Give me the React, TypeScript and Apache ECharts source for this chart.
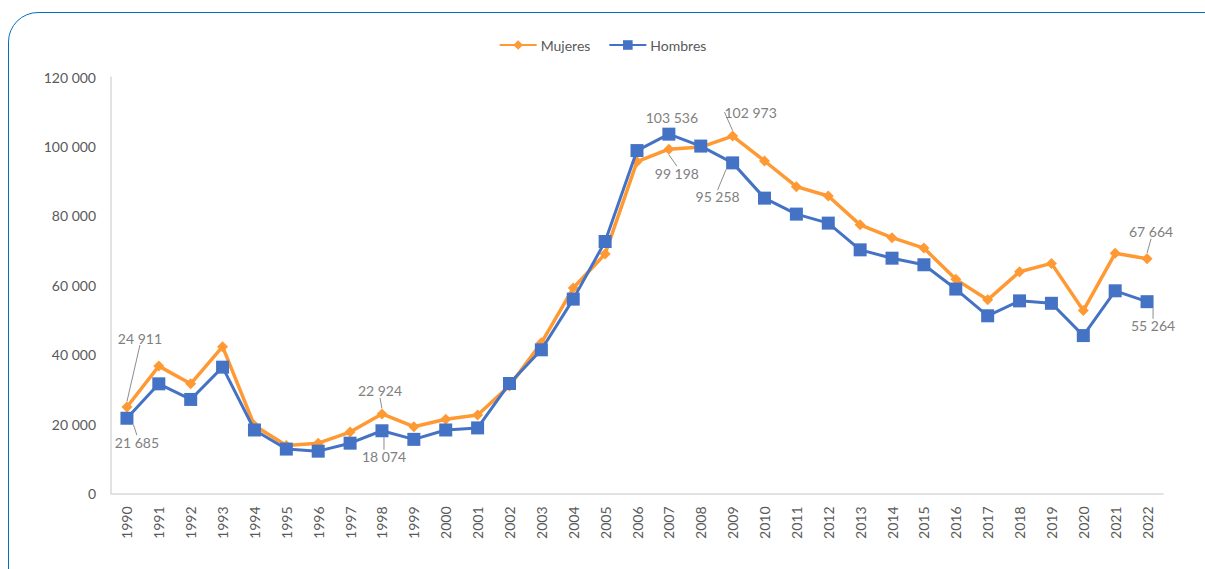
import React, { useEffect, useRef } from "react";
import * as echarts from "echarts";

const years = [
  "1990", "1991", "1992", "1993", "1994", "1995", "1996", "1997", "1998", "1999",
  "2000", "2001", "2002", "2003", "2004", "2005", "2006", "2007", "2008", "2009",
  "2010", "2011", "2012", "2013", "2014", "2015", "2016", "2017", "2018", "2019",
  "2020", "2021", "2022",
];

const mujeres = [
  24911, 36700, 31600, 42300, 19600, 13800, 14500, 17700, 22924, 19250,
  21400, 22600, 31000, 43400, 59200, 69000, 95600, 99198, 99800, 102973,
  95800, 88400, 85700, 77400, 73700, 70700, 61700, 55800, 63900, 66300,
  52700, 69200, 67664,
];

const hombres = [
  21685, 31600, 27100, 36400, 18300, 12800, 12200, 14500, 18074, 15600,
  18300, 18900, 31700, 41400, 56000, 72600, 98800, 103536, 100100, 95258,
  85100, 80500, 77900, 70200, 67800, 65900, 58900, 51200, 55500, 54800,
  45500, 58400, 55264,
];

// indices of labelled points per series
const mujeresLabelled = [0, 8, 17, 19, 32];
const hombresLabelled = [0, 8, 17, 19, 32];
// labelled points drawn without a leader line
const hombresNoLeader = [17];

const yTicks = { min: 0, max: 120000, interval: 20000 };

const fmt = (v: number) =>
  String(Math.round(v)).replace(/\B(?=(\d{3})+(?!\d))/g, " ");

// label offsets (px) from the point, per series and data index
const labelOffsets: Record<string, [number, number]> = {
  "0-0": [13, -69],
  "0-8": [-2, -23],
  "0-17": [8, 24],
  "0-19": [18, -24],
  "0-32": [4, -27],
  "1-0": [10, 24],
  "1-8": [2, 26],
  "1-17": [3, -17],
  "1-19": [-15, 34],
  "1-32": [6, 24],
};

const ORANGE = "#FF9933";
const BLUE = "#4472C4";
const FONT = "Lato";

function buildData(values: number[], labelled: number[], noLeader: number[] = []) {
  return values.map((v, i) =>
    labelled.includes(i)
      ? { value: v, label: { show: true }, labelLine: { show: !noLeader.includes(i) } }
      : v
  );
}

export default function App() {
  const ref = useRef<HTMLDivElement>(null);

  useEffect(() => {
    if (!ref.current) return;
    const chart = echarts.init(ref.current, null, { renderer: "svg" });
    const labelCommon = {
      show: false,
      position: "inside" as const,
      formatter: (p: any) => fmt(p.value),
      color: "#7F7F7F",
      fontFamily: FONT,
      fontSize: 14,
    };
    const layout = (p: any) => {
      const o = labelOffsets[`${p.seriesIndex}-${p.dataIndex}`];
      return o ? { dx: o[0], dy: o[1] } : {};
    };
    chart.setOption({
      animation: false,
      textStyle: { fontFamily: FONT },
      legend: {
        top: 33,
        left: "center",
        itemWidth: 37,
        itemHeight: 12,
        itemGap: 18,
        textStyle: { color: "#595959", fontSize: 14, fontFamily: FONT, padding: [0, 0, 0, -1] },
        data: ["Mujeres", "Hombres"],
      },
      grid: { left: 111, right: 42, top: 77, bottom: 75.5 },
      xAxis: {
        type: "category",
        data: years,
        boundaryGap: true,
        axisLine: { lineStyle: { color: "#D9D9D9", width: 1.5 } },
        axisTick: { show: false },
        axisLabel: {
          rotate: 90,
          margin: 13,
          color: "#595959",
          fontSize: 14,
          fontFamily: FONT,
          interval: 0,
        },
      },
      yAxis: {
        type: "value",
        min: yTicks.min,
        max: yTicks.max,
        interval: yTicks.interval,
        axisLine: { show: true, lineStyle: { color: "#D9D9D9", width: 1.5 } },
        axisTick: { show: false },
        splitLine: { show: false },
        axisLabel: {
          margin: 15,
          color: "#595959",
          fontSize: 14,
          fontFamily: FONT,
          formatter: (v: number) => fmt(v),
        },
      },
      series: [
        {
          name: "Mujeres",
          type: "line",
          data: buildData(mujeres, mujeresLabelled),
          symbol: "diamond",
          symbolSize: 11,
          lineStyle: { color: ORANGE, width: 3.5 },
          itemStyle: { color: ORANGE },
          label: labelCommon,
          labelLine: { show: false, lineStyle: { color: "#8C8C8C", width: 1 } },
          labelLayout: layout,
          z: 2,
        },
        {
          name: "Hombres",
          type: "line",
          data: buildData(hombres, hombresLabelled, hombresNoLeader),
          symbol: "rect",
          symbolSize: 13,
          lineStyle: { color: BLUE, width: 3 },
          itemStyle: { color: BLUE },
          label: labelCommon,
          labelLine: { show: false, lineStyle: { color: "#8C8C8C", width: 1 } },
          labelLayout: layout,
          z: 3,
        },
      ],
    });
    return () => chart.dispose();
  }, []);

  return (
    <div
      style={{
        position: "fixed",
        left: 0,
        top: 0,
        width: 1205,
        height: 569,
        overflow: "hidden",
        background: "#fff",
      }}
    >
      <div
        style={{
          position: "absolute",
          left: 7.5,
          top: 11.5,
          width: 1230,
          height: 600,
          border: "1.5px solid #0070C0",
          borderRadius: 30,
          boxSizing: "border-box",
        }}
      />
      <div
        ref={ref}
        style={{ position: "absolute", left: 0, top: 0, width: 1205, height: 569 }}
      />
    </div>
  );
}
